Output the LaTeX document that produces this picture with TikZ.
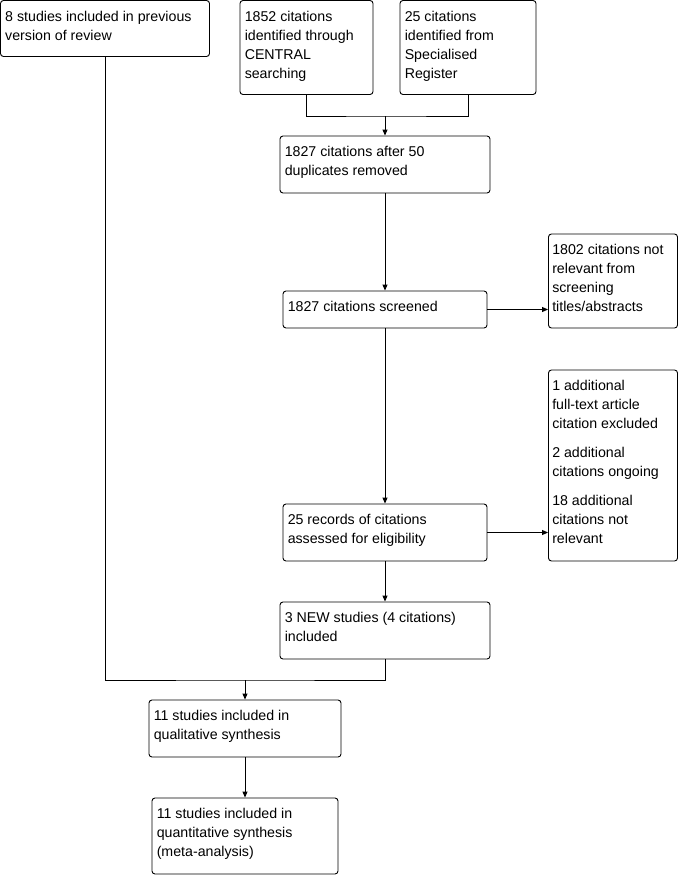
\documentclass[tikz,border=0pt]{standalone}
\usepackage{fontspec}
\setmainfont{Liberation Sans}
\usetikzlibrary{arrows.meta}
\begin{document}
\begin{tikzpicture}[x=1pt,y=-1pt,
  box/.style={draw, line width=0.9pt, rounded corners=3pt, inner sep=0pt},
  txt/.style={anchor=north west, inner sep=0pt, align=left, font=\fontsize{14.2}{19}\selectfont},
  link/.style={line width=0.9pt},
  arr/.style={line width=0.9pt, -{Triangle[length=6pt,width=5pt]}}]
\useasboundingbox (0,0) rectangle (680,875);
% boxes
\node[box, minimum width=209pt, minimum height=56pt] (A) at (105,28.5) {};
\node[box, minimum width=133pt, minimum height=94pt] (B) at (306.5,47.5) {};
\node[box, minimum width=136pt, minimum height=94pt] (C) at (468,47.5) {};
\node[box, minimum width=210pt, minimum height=57pt] (D) at (385,164.5) {};
\node[box, minimum width=204pt, minimum height=37pt] (E) at (385,309.5) {};
\node[box, minimum width=129pt, minimum height=94pt] (F) at (613,281) {};
\node[box, minimum width=204pt, minimum height=57pt] (G) at (385,532.5) {};
\node[box, minimum width=129pt, minimum height=191pt] (H) at (613,465.5) {};
\node[box, minimum width=210pt, minimum height=57pt] (I) at (385,630.5) {};
\node[box, minimum width=192pt, minimum height=57pt] (J) at (245,728.5) {};
\node[box, minimum width=186pt, minimum height=76pt] (K) at (245,836) {};
% texts
\node[txt] (At) at ([xshift=5pt,yshift=-10.5pt]A.north west) {8 studies included in previous\\version of review};
\node[txt] (Bt) at ([xshift=5pt,yshift=-10.5pt]B.north west) {1852 citations\\identified through\\CENTRAL\\searching};
\node[txt] (Ct) at ([xshift=5pt,yshift=-10.5pt]C.north west) {25 citations\\identified from\\Specialised\\Register};
\node[txt] (Dt) at ([xshift=5pt,yshift=-10.5pt]D.north west) {1827 citations after 50\\duplicates removed};
\node[txt] (Et) at ([xshift=5pt,yshift=-10.5pt]E.north west) {1827 citations screened};
\node[txt] (Ft) at ([xshift=4pt,yshift=-10.5pt]F.north west) {1802 citations not\\relevant from\\screening\\titles/abstracts};
\node[txt] (Gt) at ([xshift=5pt,yshift=-10.5pt]G.north west) {25 records of citations\\assessed for eligibility};
\node[txt] (Ht) at ([xshift=4pt,yshift=-10.5pt]H.north west) {1 additional\\full-text article\\citation excluded\\[10pt]2 additional\\citations ongoing\\[10pt]18 additional\\citations not\\relevant};
\node[txt] (It) at ([xshift=5pt,yshift=-10.5pt]I.north west) {3 NEW studies (4 citations)\\included};
\node[txt] (Jt) at ([xshift=5pt,yshift=-10.5pt]J.north west) {11 studies included in\\qualitative synthesis};
\node[txt] (Kt) at ([xshift=5pt,yshift=-10.5pt]K.north west) {11 studies included in\\quantitative synthesis\\(meta-analysis)};
% connectors
\coordinate (m1) at (385,116);
\coordinate (m2) at (245,680);
\draw[link] (B.south) |- (m1) -| (C.south);
\draw[arr] (m1) -- (D.north);
\draw[arr] (D.south) -- (E.north);
\draw[arr] (E.east) -- (E.east -| F.west);
\draw[arr] (E.south) -- (G.north);
\draw[arr] (G.east) -- (G.east -| H.west);
\draw[arr] (G.south) -- (I.north);
\draw[link] (A.south) |- (m2) -| (I.south);
\draw[arr] (m2) -- (J.north);
\draw[arr] (J.south) -- (K.north);
\end{tikzpicture}
\end{document}
